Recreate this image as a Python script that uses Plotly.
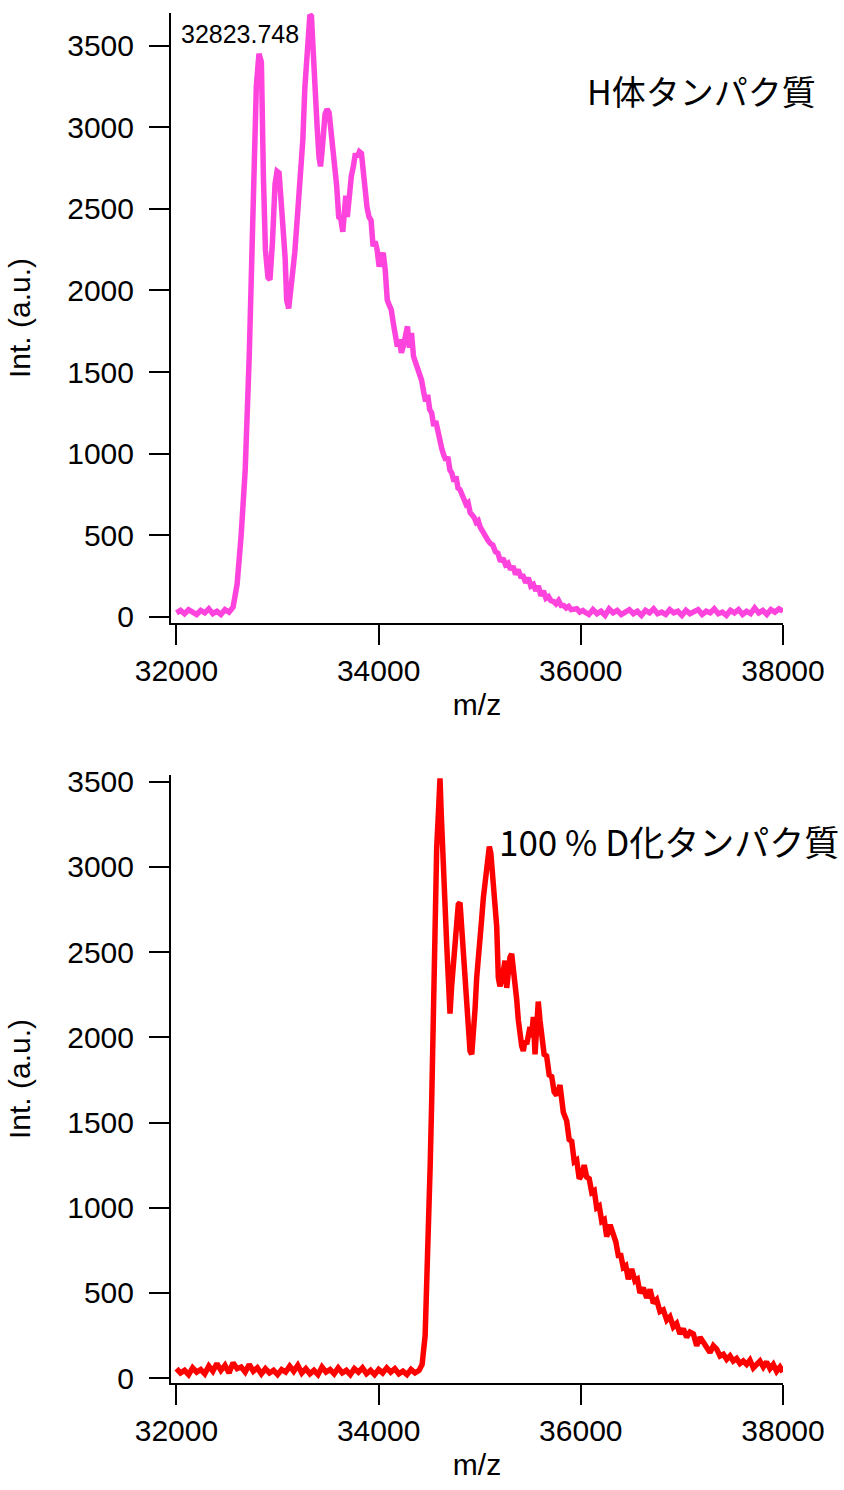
import plotly.graph_objects as go

# ---------------- H-protein spectrum (top) ----------------
h_mz_lead = list(range(32000, 32521, 40))
h_int_lead = [25, 40, 20, 45, 30, 15, 40, 25, 50, 20, 35, 15, 45, 30]

h_mz_peak = [32560, 32600, 32640, 32680, 32720, 32760, 32790, 32816, 32840, 32860,
             32880, 32905, 32925, 32950, 32975, 32995, 33015, 33035, 33055, 33075,
             33090, 33110, 33130, 33150, 33170, 33190, 33210, 33230, 33250, 33270,
             33290, 33305, 33320, 33335, 33350, 33370, 33390, 33410, 33425, 33440,
             33455, 33470, 33490, 33510, 33525, 33545, 33565, 33585, 33605, 33625,
             33645, 33660, 33675, 33690, 33710, 33730, 33750, 33770, 33790, 33810,
             33830, 33850, 33865, 33885, 33905, 33925, 33945, 33965, 33985]
h_int_peak = [60, 200, 500, 900, 1600, 2500, 3250, 3450, 3400, 2700,
              2250, 2080, 2066, 2300, 2650, 2730, 2720, 2550, 2400, 2200,
              1943, 1890, 2000, 2100, 2230, 2400, 2570, 2700, 2920, 3240,
              3430, 3600, 3690, 3680, 3450, 3200, 3020, 2820, 2760, 2850,
              2960, 3080, 3110, 3090, 3000, 2900, 2760, 2640, 2450, 2440,
              2360, 2480, 2580, 2450, 2600, 2700, 2760, 2840, 2820, 2850,
              2840, 2700, 2600, 2510, 2450, 2430, 2270, 2300, 2250]

h_mz_mid = list(range(34005, 35006, 20))
h_int_mid = [2146, 2200, 2231, 2127, 1943, 1910, 1882, 1800, 1740, 1657,
             1700, 1618, 1660, 1720, 1780, 1650, 1740, 1596, 1560, 1534,
             1480, 1450, 1380, 1320, 1360, 1270, 1250, 1170, 1200, 1130,
             1080, 1030, 990, 960, 980, 900, 880, 830, 860, 790,
             780, 740, 720, 690, 700, 640, 630, 610, 580, 590,
             550]

h_mz_tail = list(range(35030, 35931, 25))
h_int_tail = [520, 490, 470, 450, 440, 400, 390, 340, 360, 320,
              330, 290, 310, 260, 290, 250, 250, 210, 240, 190,
              200, 160, 190, 130, 160, 115, 125, 100, 95, 80,
              100, 70, 70, 55, 65, 45, 50]

h_mz_foot = [35960, 35990, 36020]
h_int_foot = [50, 30, 40]

h_mz_base = list(range(36040, 38001, 40))
h_int_base = [30, 15, 45, 20, 35, 10, 50, 25, 40, 15,
              30, 45, 20, 35, 10, 40, 25, 50, 20, 30,
              15, 45, 25, 35, 10, 40, 20, 30, 45, 15,
              35, 25, 50, 20, 30, 10, 40, 25, 45, 15,
              35, 20, 55, 25, 40, 15, 45, 30, 50, 35]

# ---------------- 100 % D protein spectrum (bottom) ----------------
d_mz_base = list(range(32000, 34401, 40))
d_int_base = [55, 30, 45, 20, 60, 35, 50, 25, 70, 40,
              85, 45, 75, 30, 90, 55, 65, 35, 80, 40,
              60, 25, 55, 30, 45, 20, 50, 35, 70, 40,
              75, 30, 55, 25, 45, 20, 65, 35, 50, 25,
              60, 30, 45, 20, 55, 35, 60, 25, 45, 20,
              50, 30, 60, 35, 55, 25, 40, 20, 50, 30,
              45]

d_mz_peak = [34430, 34460, 34490, 34510, 34525, 34541, 34557, 34574, 34590, 34607,
             34620, 34634, 34657, 34673, 34689, 34706, 34722, 34738, 34755, 34772,
             34788, 34805, 34821, 34837, 34854, 34871, 34887, 34904, 34921, 34937,
             34953, 34970, 34986, 35003, 35020, 35036, 35052, 35068, 35082, 35095,
             35110, 35122, 35134, 35150, 35168, 35184, 35200, 35217, 35233, 35250,
             35267, 35283, 35299, 35316, 35332, 35349, 35366, 35382, 35398, 35415,
             35431, 35448, 35465, 35481, 35497, 35513, 35530, 35547, 35563, 35579,
             35596, 35613, 35637, 35662, 35687, 35712, 35736, 35761, 35794, 35827,
             35860, 35885, 35910, 35935, 35959, 35984, 36009, 36033, 36058, 36083,
             36108, 36133, 36157, 36182, 36207, 36232, 36256, 36290, 36321, 36346,
             36371, 36396, 36420, 36445, 36470, 36503, 36536, 36560, 36585, 36618,
             36652, 36685, 36717, 36750, 36783, 36816, 36850, 36882, 36915, 36948,
             36981, 37014, 37047, 37080, 37113, 37146, 37180, 37212, 37245, 37278,
             37311, 37344, 37377, 37410, 37443, 37476, 37508, 37541, 37574, 37607,
             37640, 37673, 37706, 37739, 37772, 37805, 37838, 37871, 37904, 37937,
             37970, 38000]
d_int_peak = [80, 250, 750, 1250, 1630, 2060, 2840, 3110, 3300, 3520,
              3300, 3040, 2740, 2550, 2350, 2140, 2300, 2410, 2520, 2650,
              2780, 2790, 2650, 2530, 2350, 2140, 2050, 1920, 1900, 2000,
              2160, 2350, 2500, 2610, 2700, 2820, 2900, 2980, 3060, 3120,
              3080, 2980, 2970, 2820, 2650, 2350, 2300, 2330, 2380, 2450,
              2290, 2400, 2470, 2490, 2420, 2350, 2220, 2100, 2000, 1950,
              1920, 1980, 1960, 2020, 2060, 2000, 2120, 1900, 2050, 2210,
              2100, 2020, 1900, 1890, 1780, 1770, 1680, 1660, 1720, 1560,
              1510, 1400, 1390, 1270, 1280, 1170, 1190, 1250, 1180, 1170,
              1090, 1100, 1000, 1010, 920, 930, 830, 900, 840, 800,
              720, 720, 650, 660, 580, 640, 570, 580, 500, 530,
              470, 520, 440, 460, 390, 400, 340, 360, 300, 320,
              260, 290, 240, 270, 260, 190, 240, 210, 190, 150,
              190, 170, 130, 140, 110, 130, 100, 115, 85, 100,
              80, 105, 60, 80, 100, 65, 95, 55, 80, 40,
              65, 35]

x_ticks = [32000, 34000, 36000, 38000]
y_ticks = [0, 500, 1000, 1500, 2000, 2500, 3000, 3500]

mz_h = h_mz_lead + h_mz_peak + h_mz_mid + h_mz_tail + h_mz_foot + h_mz_base
int_h = h_int_lead + h_int_peak + h_int_mid + h_int_tail + h_int_foot + h_int_base
mz_d = d_mz_base + d_mz_peak
int_d = d_int_base + d_int_peak

TICK_FONT = dict(family="Liberation Sans, Arial, sans-serif", size=30, color="black")
JP_FONT = "Noto Sans CJK JP"

fig = go.Figure()
fig.add_trace(go.Scatter(x=mz_h, y=int_h, mode="lines", xaxis="x", yaxis="y",
                         line=dict(color="#FF44DD", width=5.5), showlegend=False))
fig.add_trace(go.Scatter(x=mz_d, y=int_d, mode="lines", xaxis="x2", yaxis="y2",
                         line=dict(color="#FF0000", width=5.5), showlegend=False))

axis_common = dict(showline=True, linecolor="black", linewidth=2, ticks="outside",
                   ticklen=20, tickwidth=2, tickcolor="black", showgrid=False,
                   zeroline=False, tickfont=TICK_FONT, automargin=False)

fig.update_layout(
    width=844, height=1490,
    paper_bgcolor="white", plot_bgcolor="white",
    margin=dict(l=171, r=61, t=0, b=0, pad=0, autoexpand=False),
    xaxis=dict(domain=[0, 1], anchor="y", range=[31946, 38000], tickvals=x_ticks,
               ticktext=[str(v) for v in x_ticks],
               title=dict(text="m/z", font=TICK_FONT, standoff=8), **axis_common),
    yaxis=dict(domain=[0.58188, 0.99128], anchor="x", range=[-37, 3700], tickvals=y_ticks,
               ticktext=[str(v) for v in y_ticks], ticklabelstandoff=9,
               title=dict(text="Int. (a.u.)", font=TICK_FONT, standoff=28), **axis_common),
    xaxis2=dict(domain=[0, 1], anchor="y2", range=[31946, 38000], tickvals=x_ticks,
                ticktext=[str(v) for v in x_ticks],
                title=dict(text="m/z", font=TICK_FONT, standoff=8), **axis_common),
    yaxis2=dict(domain=[0.07181, 0.47987], anchor="x2", range=[-29, 3540], tickvals=y_ticks,
                ticktext=[str(v) for v in y_ticks], ticklabelstandoff=9,
                title=dict(text="Int. (a.u.)", font=TICK_FONT, standoff=28), **axis_common),
)

fig.add_annotation(x=32025, y=3574, xref="x", yref="y", text="32823.748", showarrow=False,
                   xanchor="left", yanchor="middle", bgcolor="white",
                   font=dict(family="Liberation Sans, Arial, sans-serif", size=25, color="black"))
fig.add_annotation(x=34676, y=3641, xref="x2", yref="y2", text="34614.595", showarrow=False,
                   xanchor="center", yanchor="middle",
                   font=dict(family="Liberation Sans, Arial, sans-serif", size=25, color="black"))
fig.add_annotation(x=37189, y=3224, xref="x", yref="y", text="H体タンパク質", showarrow=False,
                   xanchor="center", yanchor="middle",
                   font=dict(family=JP_FONT, size=34, color="black"))
fig.add_annotation(x=36877, y=3154, xref="x2", yref="y2", text="100 % D化タンパク質", showarrow=False,
                   xanchor="center", yanchor="middle",
                   font=dict(family=JP_FONT, size=35, color="black"))

fig.write_html("out.html")
